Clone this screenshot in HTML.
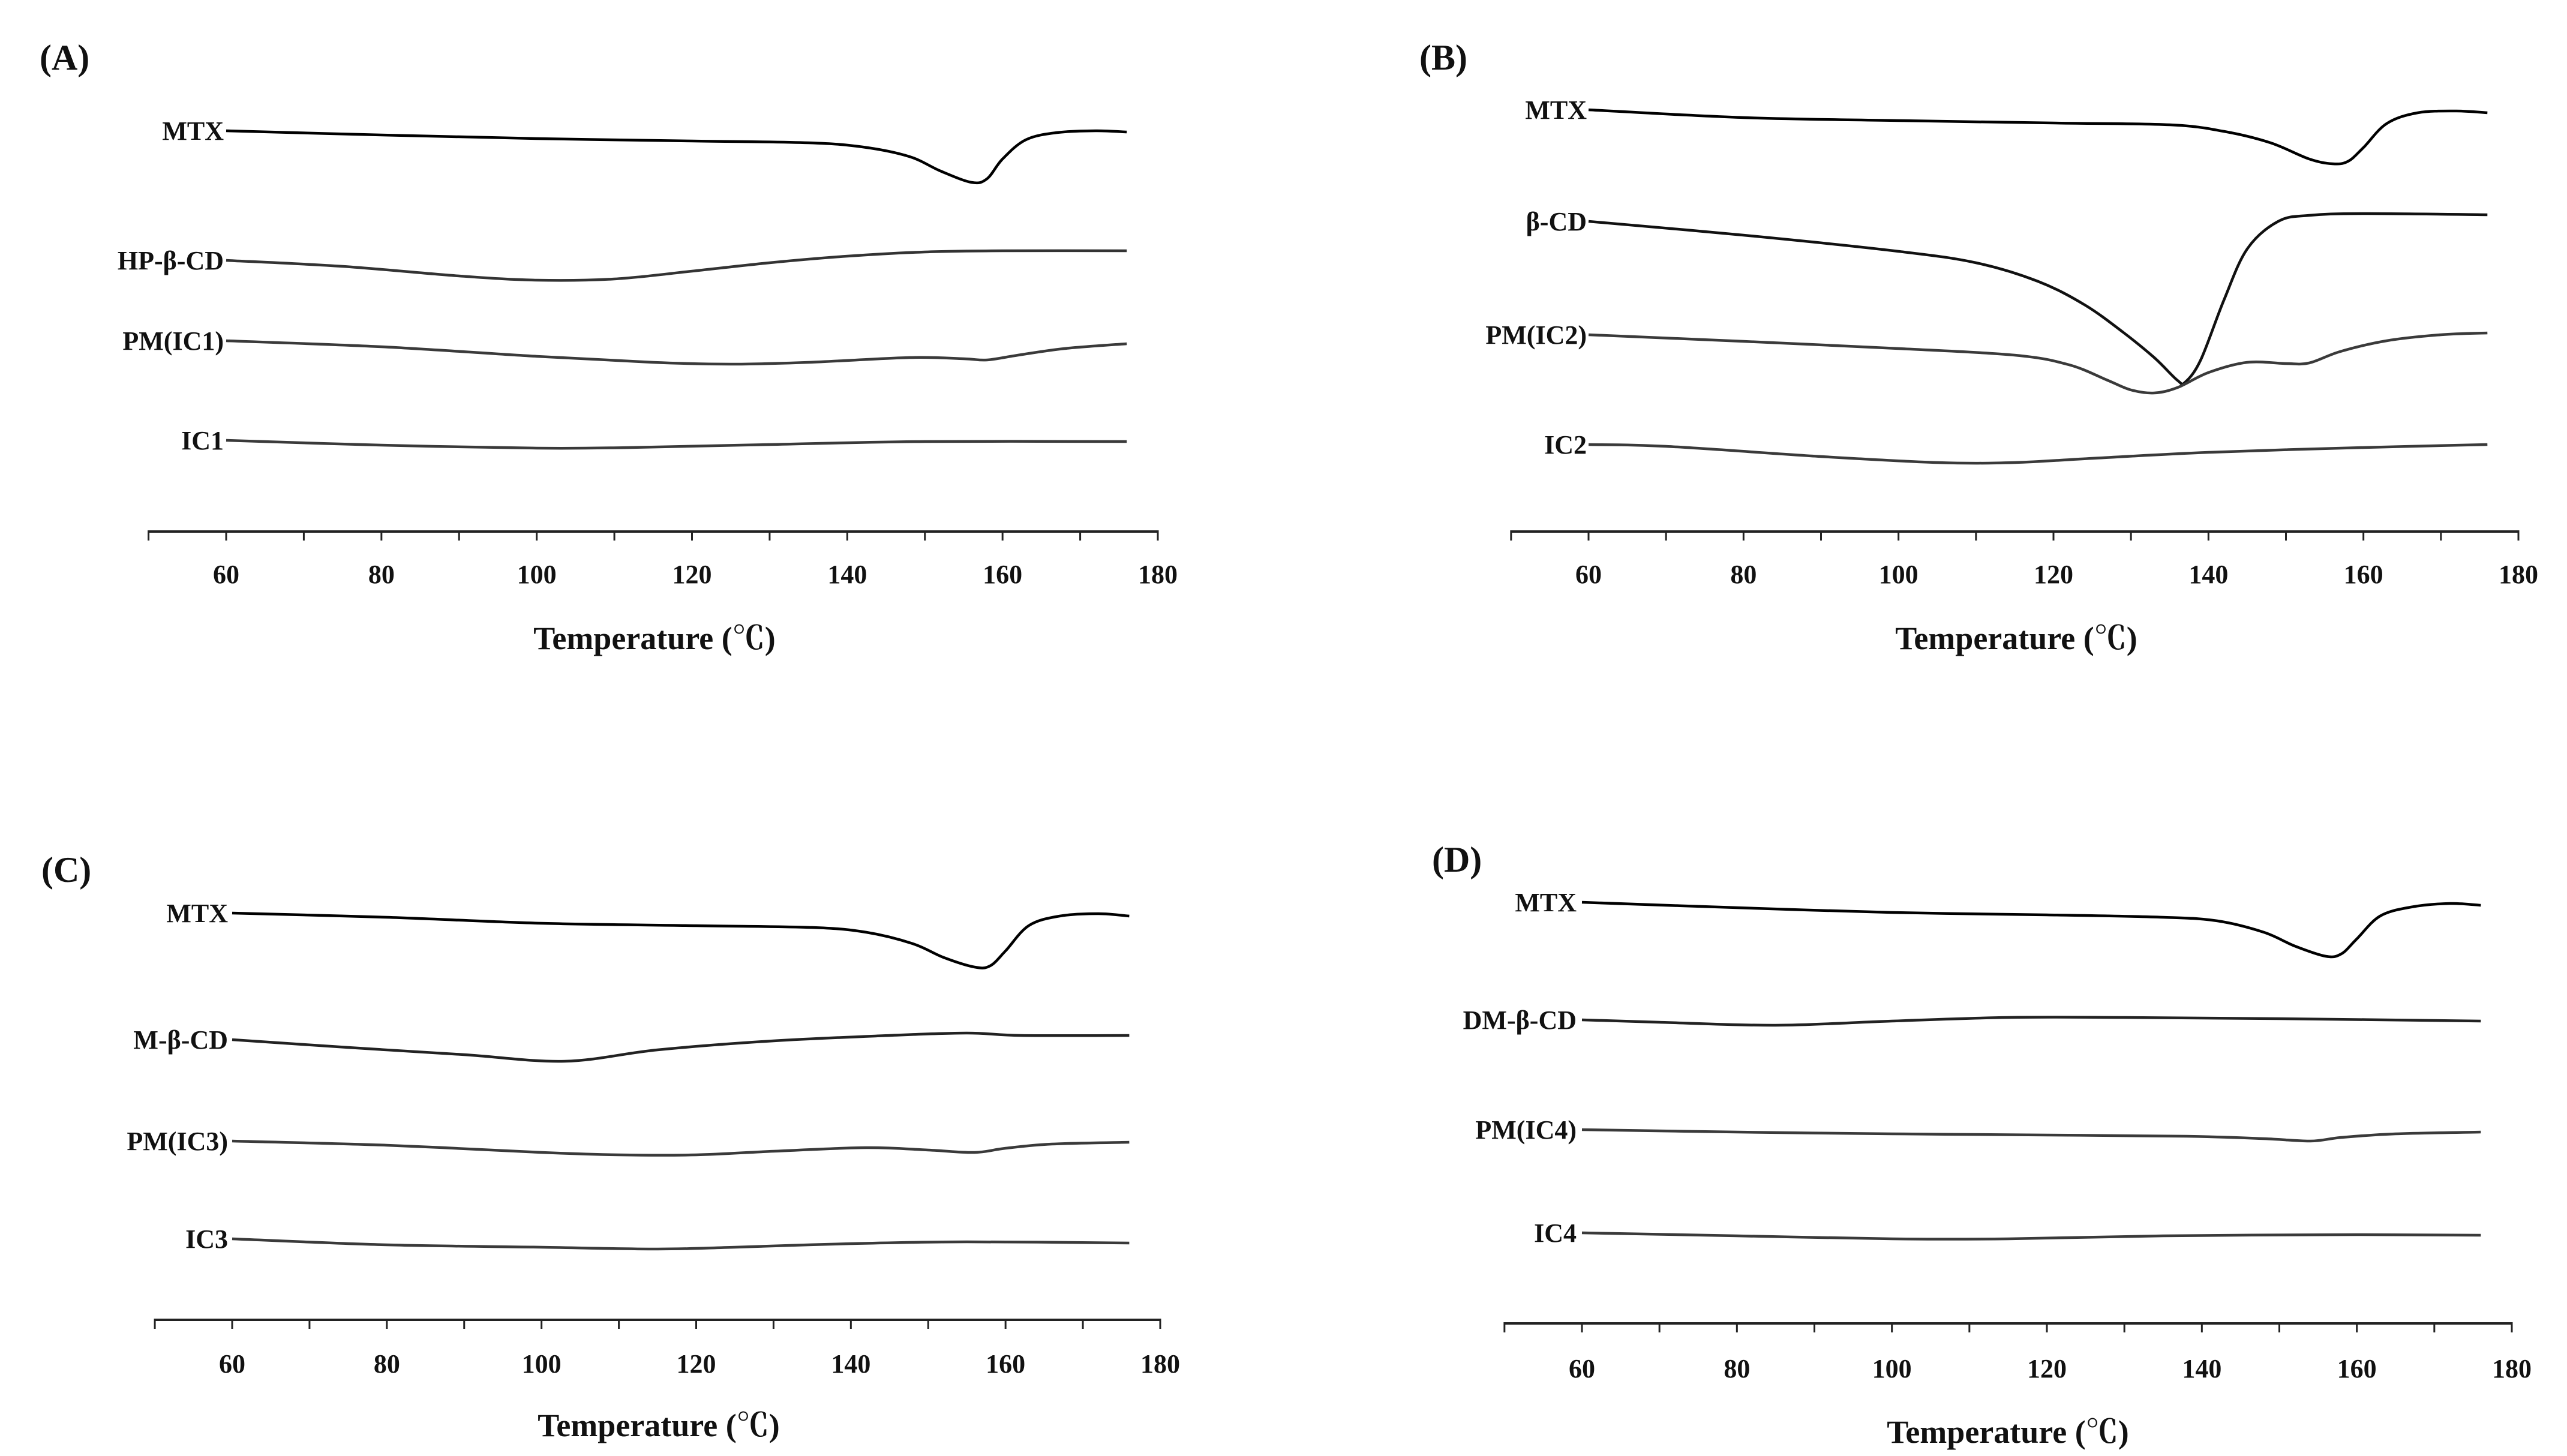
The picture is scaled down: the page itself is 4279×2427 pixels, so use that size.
<!DOCTYPE html>
<html><head><meta charset="utf-8"><style>
html,body{margin:0;padding:0;background:#fff;}
svg{display:block;}
text{font-family:"Liberation Serif","Noto Serif CJK SC",serif;font-weight:bold;fill:#111;}
</style></head><body>
<svg id="fig" width="4279" height="2427" viewBox="0 0 4279 2427" xmlns="http://www.w3.org/2000/svg"></svg>
<script>
// Temperature ticks shared by all panels
const tickLabels = [60, 80, 100, 120, 140, 160, 180];
// Panel A
const aMtxT = [60,80,100,120,135,142,148,152,156,158,160,163,167,172,176];
const aMtxV = [66.8,66.1,65.5,65.1,64.8,64.1,62.5,60.1,58.2,58.8,62.1,65.3,66.5,66.8,66.6];
const aHpT = [60,75,90,100,110,120,130,140,150,160,176];
const aHpV = [45.2,44.2,42.6,41.9,42.1,43.4,44.8,45.9,46.6,46.8,46.8];
const aPmT = [60,80,100,115,125,135,148,155,158,162,168,176];
const aPmV = [31.8,30.8,29.2,28.2,27.9,28.2,29.0,28.8,28.6,29.4,30.5,31.3];
const aIcT = [60,80,100,112,130,150,176];
const aIcV = [15.2,14.4,13.9,14.0,14.5,15.0,15.0];
// Panel B
const bMtxT = [60,80,100,120,135,142,148,153,156,158,160,163,167,172,176];
const bMtxV = [70.3,69.0,68.5,68.1,67.8,66.7,64.8,62.1,61.3,61.7,64.0,68.0,69.8,70.1,69.8];
const bCdT = [60,80,100,110,118,124,129,133,136,137,139,142,145,149,153,160,176];
const bCdV = [51.7,49.4,46.7,44.8,41.7,37.8,33.2,29.0,25.2,24.9,28.6,38.6,47.1,51.7,52.7,53.0,52.8];
const bPmT = [60,80,100,115,122,127,130,133,136,140,145,150,153,157,163,170,176];
const bPmV = [32.8,31.7,30.5,29.4,27.8,25.2,23.6,23.1,24.0,26.5,28.2,28.0,28.1,30.0,31.8,32.8,33.1];
const bIcT = [60,70,90,105,115,125,140,160,176];
const bIcV = [14.5,14.2,12.5,11.5,11.5,12.2,13.2,14.0,14.5];
// Panel C
const cMtxT = [60,80,100,120,135,142,148,152,156,158,160,163,167,172,176];
const cMtxV = [67.8,67.1,66.1,65.7,65.4,64.6,62.7,60.4,58.8,59.0,61.5,65.7,67.3,67.7,67.3];
const cMT = [60,75,90,103,115,130,145,155,162,176];
const cMV = [46.7,45.4,44.2,43.1,45.0,46.5,47.4,47.8,47.4,47.4];
const cPmT = [60,80,100,110,120,130,142,150,156,160,166,176];
const cPmV = [29.8,29.1,27.9,27.5,27.5,28.1,28.7,28.3,27.9,28.6,29.3,29.6];
const cIcT = [60,80,100,115,125,140,155,176];
const cIcV = [13.5,12.5,12.1,11.8,12.1,12.7,13.0,12.8];
// Panel D
const dMtxT = [60,80,100,120,135,142,148,152,156,158,160,163,167,172,176];
const dMtxV = [70.2,69.3,68.5,68.1,67.7,67.1,65.2,62.9,61.2,61.6,64.1,67.9,69.4,70.0,69.7];
const dDmT = [60,70,85,100,115,130,150,176];
const dDmV = [50.6,50.2,49.7,50.4,51.0,51.0,50.8,50.4];
const dPmT = [60,80,100,120,138,148,154,158,165,176];
const dPmV = [32.3,31.9,31.6,31.4,31.2,30.8,30.4,31.0,31.6,31.9];
const dIcT = [60,80,100,115,135,160,176];
const dIcV = [15.1,14.6,14.1,14.1,14.6,14.8,14.7];

const NS = "http://www.w3.org/2000/svg";
const svg = document.getElementById('fig');
function mk(tag, attrs, parent){ const e=document.createElementNS(NS,tag); for(const k in attrs) e.setAttribute(k,attrs[k]); (parent||svg).appendChild(e); return e; }

const panels = [
  {id:'a', letter:'(A)', lx:66, ly:116, x60:377, x180:1930, axisY:886, labRight:373, tickY:972, titleY:1082, titleX:1091,
   series:[['MTX',aMtxT,aMtxV,'#000'],['HP-β-CD',aHpT,aHpV,'#333'],['PM(IC1)',aPmT,aPmV,'#3a3a3a'],['IC1',aIcT,aIcV,'#3a3a3a']]},
  {id:'b', letter:'(B)', lx:2366, ly:116, x60:2648, x180:4198, axisY:886, labRight:2645, tickY:972, titleY:1082, titleX:3361,
   series:[['MTX',bMtxT,bMtxV,'#000'],['β-CD',bCdT,bCdV,'#111'],['PM(IC2)',bPmT,bPmV,'#3a3a3a'],['IC2',bIcT,bIcV,'#3a3a3a']]},
  {id:'c', letter:'(C)', lx:69, ly:1470, x60:387, x180:1934, axisY:2200, labRight:380, tickY:2288, titleY:2394, titleX:1098,
   series:[['MTX',cMtxT,cMtxV,'#000'],['M-β-CD',cMT,cMV,'#222'],['PM(IC3)',cPmT,cPmV,'#3a3a3a'],['IC3',cIcT,cIcV,'#3a3a3a']]},
  {id:'d', letter:'(D)', lx:2387, ly:1453, x60:2637, x180:4187, axisY:2206, labRight:2628, tickY:2296, titleY:2405, titleX:3347,
   series:[['MTX',dMtxT,dMtxV,'#000'],['DM-β-CD',dDmT,dDmV,'#222'],['PM(IC4)',dPmT,dPmV,'#3a3a3a'],['IC4',dIcT,dIcV,'#3a3a3a']]}
];

function pathFrom(pts){
  let d='M'+pts[0][0].toFixed(1)+','+pts[0][1].toFixed(1);
  for(let i=0;i<pts.length-1;i++){
    const p0=pts[Math.max(0,i-1)],p1=pts[i],p2=pts[i+1],p3=pts[Math.min(pts.length-1,i+2)];
    const c1=[p1[0]+(p2[0]-p0[0])/6,p1[1]+(p2[1]-p0[1])/6];
    const c2=[p2[0]-(p3[0]-p1[0])/6,p2[1]-(p3[1]-p1[1])/6];
    d+=' C'+c1[0].toFixed(1)+','+c1[1].toFixed(1)+' '+c2[0].toFixed(1)+','+c2[1].toFixed(1)+' '+p2[0].toFixed(1)+','+p2[1].toFixed(1);
  }
  return d;
}

panels.forEach(p=>{
  const xs = t => p.x60 + (t-60)*(p.x180-p.x60)/120;
  const ys = v => p.axisY - v*10;
  const g = mk('g',{});
  
  
  const L = mk('text',{x:p.lx,y:p.ly,'font-size':60},g);
  L.textContent=p.letter;
  
  
  // axis
  const ax = mk('g',{},g);
  
  
  mk('line',{x1:xs(50),x2:xs(180),y1:p.axisY,y2:p.axisY,stroke:'#222','stroke-width':4},ax);
  for(let t=50;t<=180;t+=10){
    mk('line',{x1:xs(t),x2:xs(t),y1:p.axisY-2,y2:p.axisY+15,stroke:'#222','stroke-width':3},ax);
  }
  tickLabels.forEach(t=>{
    const tx = mk('text',{x:xs(t),y:p.tickY,'font-size':44,'text-anchor':'middle'},ax);
    tx.textContent=String(t);
    
    
  });
  const ti = mk('text',{x:p.titleX,y:p.titleY,'font-size':54,'text-anchor':'middle'},g);
  ti.textContent='Temperature (℃)';
  
  
  p.series.forEach(s=>{
    const [name,T,V,col]=s;
    const pts = T.map((t,i)=>[xs(t),ys(V[i])]);
    const path = mk('path',{d:pathFrom(pts),fill:'none',stroke:col,'stroke-width':4.5,'stroke-linejoin':'round'},g);
    
    
    const lab = mk('text',{x:p.labRight,y:ys(V[0])+15,'font-size':44,'text-anchor':'end'},g);
    lab.textContent=name;
    
    
  });
});
</script>
</body></html>
